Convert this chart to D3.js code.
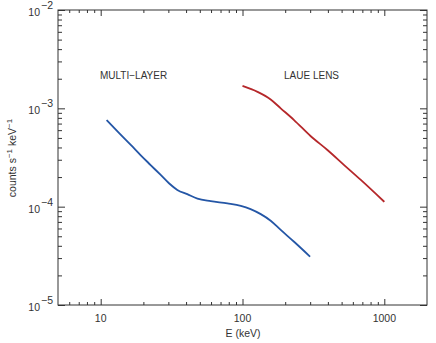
<!DOCTYPE html><html><meta charset="UTF-8">
<title>Spectra</title>
<style>
  body { margin: 0; background: #fff; overflow: hidden; }
  text { font-family: "Liberation Sans", Arial, sans-serif; fill: #333; }
  .axis line, .axis path { stroke: #333; }
</style>
<script src="https://cdn.jsdelivr.net/npm/d3@7"></script>
<svg width="436" height="343"></svg>
<script>

// energy (keV) and counts s^-1 keV^-1
var mlEnergy = [11, 13.5, 16.3, 19.1, 22.5, 26.5, 30.3, 34.7, 40.8, 48.1, 59.7, 78.3, 97.3, 114, 134.5, 158, 186, 231, 300];
var mlCounts = [7.6e-4, 5.6e-4, 4.25e-4, 3.35e-4, 2.65e-4, 2.1e-4, 1.73e-4, 1.48e-4, 1.34e-4, 1.21e-4, 1.14e-4, 1.08e-4, 1.02e-4, 9.45e-5, 8.4e-5, 7.2e-5, 5.8e-5, 4.4e-5, 3.1e-5];
var laueEnergy = [100, 127.6, 158, 186, 231, 303, 397, 521, 683, 1000];
var laueCounts = [1.69e-3, 1.47e-3, 1.23e-3, 1.0e-3, 7.6e-4, 5.2e-4, 3.77e-4, 2.65e-4, 1.87e-4, 1.12e-4];
var xTickValues = [10, 100, 1000];
var yExponents = [-2, -3, -4, -5];

var svg = d3.select("svg"),
    pLeft = 58, pRight = 427, pTop = 10, pBottom = 305;

var x = d3.scaleLog().domain([5, 2000]).range([pLeft, pRight]);
var y = d3.scaleLog().domain([1e-5, 1e-2]).range([pBottom, pTop]);

// minor tick values
var xMinor = [], yMinor = [];
[1, 10, 100, 1000].forEach(function(d) {
  for (var k = 2; k <= 9; k++) { var v = d * k; if (v > 5 && v < 2000) xMinor.push(v); }
});
[1e-5, 1e-4, 1e-3].forEach(function(d) {
  for (var k = 2; k <= 9; k++) yMinor.push(d * k);
});

function drawAxis(axisFn, scale, vals, len, transform) {
  svg.append("g").attr("class", "axis").attr("transform", transform)
    .call(axisFn(scale).tickValues(vals).tickSize(len).tickFormat(""))
    .call(function(g) { g.select(".domain").remove(); });
}

// frame
svg.append("rect").attr("x", pLeft).attr("y", pTop)
  .attr("width", pRight - pLeft).attr("height", pBottom - pTop)
  .attr("fill", "none").attr("stroke", "#333").attr("stroke-width", 1);

// bottom / top ticks (inward)
drawAxis(d3.axisTop, x, xTickValues, 6, "translate(0," + pBottom + ")");
drawAxis(d3.axisTop, x, xMinor, 3, "translate(0," + pBottom + ")");
drawAxis(d3.axisBottom, x, xTickValues, 6, "translate(0," + pTop + ")");
drawAxis(d3.axisBottom, x, xMinor, 3, "translate(0," + pTop + ")");
// left / right ticks (inward)
var yMajor = yExponents.map(function(e) { return Math.pow(10, e); });
drawAxis(d3.axisRight, y, yMajor, 7, "translate(" + pLeft + ",0)");
drawAxis(d3.axisRight, y, yMinor, 4, "translate(" + pLeft + ",0)");
drawAxis(d3.axisLeft, y, yMajor, 7, "translate(" + pRight + ",0)");
drawAxis(d3.axisLeft, y, yMinor, 4, "translate(" + pRight + ",0)");

// x tick labels
svg.selectAll(".xlab").data(xTickValues).enter().append("text")
  .attr("x", function(d) { return x(d); }).attr("y", 322)
  .attr("text-anchor", "middle").attr("font-size", 10.5)
  .text(function(d) { return d; });

svg.append("text").attr("x", 243).attr("y", 337)
  .attr("text-anchor", "middle").attr("font-size", 10.5).text("E (keV)");

// y tick labels 10^n
var ylab = svg.selectAll(".ylab").data(yExponents).enter().append("text")
  .attr("x", 53).attr("y", function(d) { return y(Math.pow(10, d)) + 6; })
  .attr("text-anchor", "end").attr("font-size", 10.5);
ylab.append("tspan").text("10");
ylab.append("tspan").attr("dx", 1).attr("dy", -7).attr("font-size", 10.5)
  .text(function(d) { return "\u2212" + (-d); });

// y title
var yt = svg.append("text")
  .attr("transform", "translate(16,158) rotate(-90)")
  .attr("text-anchor", "middle").attr("font-size", 10.5);
yt.append("tspan").text("counts s");
yt.append("tspan").attr("dy", -4).attr("font-size", 8).text("\u22121");
yt.append("tspan").attr("dy", 4).text("  keV");
yt.append("tspan").attr("dy", -4).attr("font-size", 8).text("\u22121");

// curves
var line = d3.line().curve(d3.curveMonotoneX)
  .x(function(d) { return x(d[0]); }).y(function(d) { return y(d[1]); });

svg.append("path").datum(d3.zip(mlEnergy, mlCounts))
  .attr("d", line).attr("fill", "none").attr("stroke", "#2456a6").attr("stroke-width", 1.8);
svg.append("path").datum(d3.zip(laueEnergy, laueCounts))
  .attr("d", line).attr("fill", "none").attr("stroke", "#b5272a").attr("stroke-width", 1.8);

// labels
svg.append("text").attr("x", 100).attr("y", 79).attr("font-size", 10).text("MULTI\u2212LAYER");
svg.append("text").attr("x", 284).attr("y", 79).attr("font-size", 10).text("LAUE LENS");

</script>
